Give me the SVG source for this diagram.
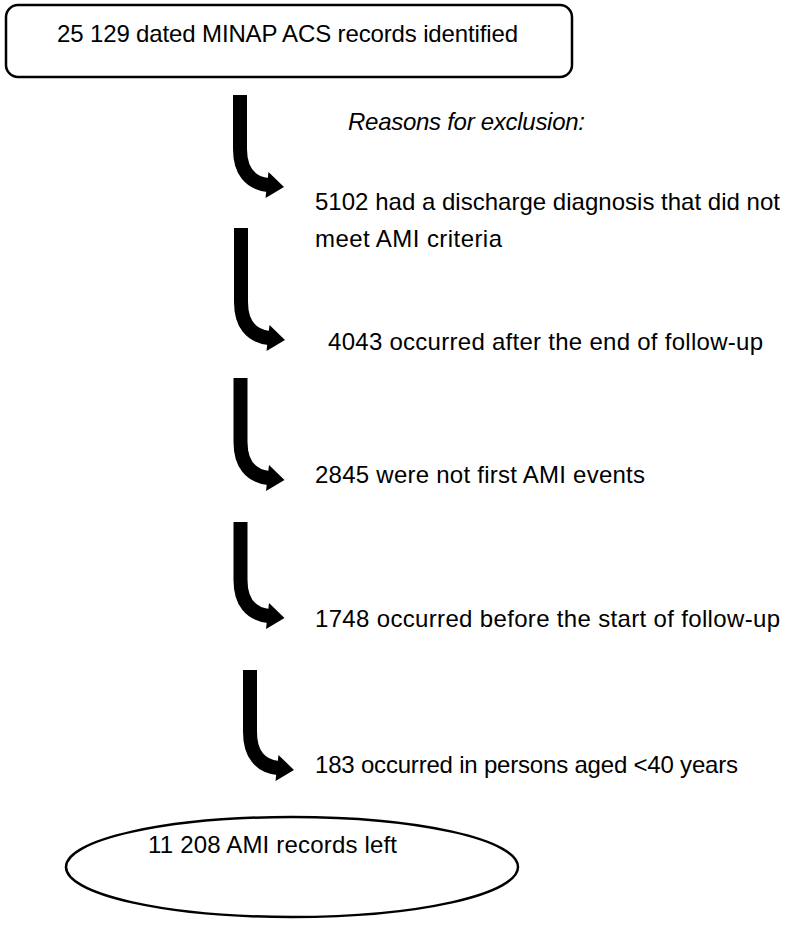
<svg xmlns="http://www.w3.org/2000/svg" width="785" height="927" viewBox="0 0 785 927">
<style>
text{font-family:"Liberation Sans",Arial,sans-serif;font-size:24px;fill:#000}
.it{font-style:italic}
.shape{fill:#fff;stroke:#000;stroke-width:2.5}
.stem{fill:none;stroke:#000;stroke-width:14}
.head{fill:#000;stroke:none}
</style>
<rect width="785" height="927" fill="#fff"/>
<g id="start">
<rect class="shape" x="6" y="5" width="566" height="72" rx="12"/>
<text x="57" y="42" textLength="461" lengthAdjust="spacing">25 129 dated MINAP ACS records identified</text>
</g>
<g id="reasons">
<text class="it" x="348" y="130" textLength="237" lengthAdjust="spacing">Reasons for exclusion:</text>
</g>
<g id="connectors">
<g transform="translate(240,185)">
<path class="stem" d="M0,-90 V-36 C0,-14 10,-2 28,0"/>
<polygon class="head" points="44,2 28.5,-13 25.5,13"/>
</g>
<g transform="translate(241,338)">
<path class="stem" d="M0,-110 V-36 C0,-14 10,-2 28,0"/>
<polygon class="head" points="44,2 28.5,-13 25.5,13"/>
</g>
<g transform="translate(240.5,478)">
<path class="stem" d="M0,-100 V-36 C0,-14 10,-2 28,0"/>
<polygon class="head" points="44,2 28.5,-13 25.5,13"/>
</g>
<g transform="translate(240.5,616)">
<path class="stem" d="M0,-94 V-36 C0,-14 10,-2 28,0"/>
<polygon class="head" points="44,2 28.5,-13 25.5,13"/>
</g>
<g transform="translate(250,768)">
<path class="stem" d="M0,-98 V-36 C0,-14 10,-2 28,0"/>
<polygon class="head" points="44,2 28.5,-13 25.5,13"/>
</g>
</g>
<g id="excl1">
<text x="315" y="210" textLength="465" lengthAdjust="spacing">5102 had a discharge diagnosis that did not</text>
<text x="315" y="247" textLength="187" lengthAdjust="spacing">meet AMI criteria</text>
</g>
<g id="excl2">
<text x="328" y="350" textLength="435" lengthAdjust="spacing">4043 occurred after the end of follow-up</text>
</g>
<g id="excl3">
<text x="315" y="483" textLength="330" lengthAdjust="spacing">2845 were not first AMI events</text>
</g>
<g id="excl4">
<text x="315" y="627" textLength="465" lengthAdjust="spacing">1748 occurred before the start of follow-up</text>
</g>
<g id="excl5">
<text x="315" y="773" textLength="423" lengthAdjust="spacing">183 occurred in persons aged &lt;40 years</text>
</g>
<g id="result">
<ellipse class="shape" cx="292" cy="867" rx="226" ry="50"/>
<text x="148" y="853" textLength="249" lengthAdjust="spacing">11 208 AMI records left</text>
</g>
</svg>
